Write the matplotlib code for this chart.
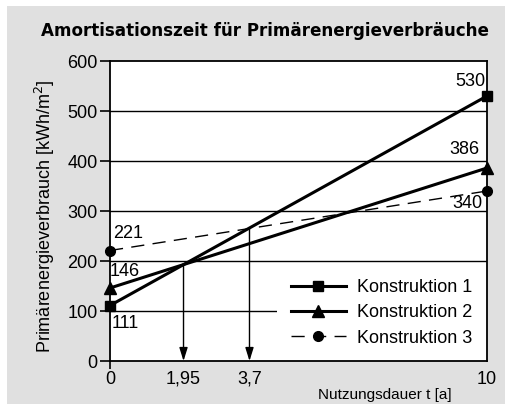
import numpy as np
import matplotlib.pyplot as plt
from matplotlib.patches import Rectangle

# Werte aus dem Diagramm
t = [0, 10]
konstruktion_1 = [111, 530]
konstruktion_2 = [146, 386]
konstruktion_3 = [221, 340]
serien = ['Konstruktion 1', 'Konstruktion 2', 'Konstruktion 3']
amortisation = [1.95, 3.7]
x_ticks = [0, 1.95, 3.7, 10]
x_tick_labels = ['0', '1,95', '3,7', '10']
y_ticks = [0, 100, 200, 300, 400, 500, 600]

plt.rcParams['font.family'] = ['Liberation Sans', 'DejaVu Sans']

W, H = 511, 405
fig = plt.figure(figsize=(W / 100, H / 100), dpi=100)
fig.patch.set_facecolor('white')

# grauer Hintergrund
fig.patches.append(Rectangle((7 / W, 1 - 404 / H), 498 / W, 398 / H,
                             transform=fig.transFigure, facecolor='#e0e0e0',
                             edgecolor='none', zorder=-10))

ax = fig.add_axes([110 / W, 1 - 361 / H, 377 / W, 300 / H])
ax.set_facecolor('white')
ax.set_xlim(0, 10)
ax.set_ylim(0, 600)

for y in y_ticks[1:-1]:
    ax.axhline(y, color='black', lw=1.0, zorder=1)

ax.plot(t, konstruktion_1, color='black', lw=2.2, marker='s', ms=7.5,
        label=serien[0], zorder=4, clip_on=False)
ax.plot(t, konstruktion_2, color='black', lw=2.2, marker='^', ms=8,
        label=serien[1], zorder=4, clip_on=False)
ax.plot(t, konstruktion_3, color='black', lw=1.0, dashes=(9.5, 6), marker='o', ms=7,
        label=serien[2], zorder=4, clip_on=False)

# Pfeile von den Schnittpunkten zur Zeitachse
for ta in amortisation:
    ya = np.interp(ta, t, konstruktion_1)
    ax.annotate('', xy=(ta, 0), xytext=(ta, ya),
                arrowprops=dict(arrowstyle='-|>,head_length=0.8,head_width=0.25',
                                color='black', lw=1.0, shrinkA=0, shrinkB=0),
                zorder=3)

fs = 13
ax.text(9.95, konstruktion_1[1] + 28, '530', ha='right', va='center', fontsize=fs)
ax.text(9.79, konstruktion_2[1] + 36, '386', ha='right', va='center', fontsize=fs)
ax.text(9.87, konstruktion_3[1] - 24, '340', ha='right', va='center', fontsize=fs)
ax.text(0.08, konstruktion_3[0] + 35, '221', ha='left', va='center', fontsize=fs)
ax.text(0.0, konstruktion_2[0] + 32, '146', ha='left', va='center', fontsize=fs)
ax.text(0.05, konstruktion_1[0] - 35, '111', ha='left', va='center', fontsize=fs)

leg = ax.legend(loc='lower right', bbox_to_anchor=(1.0, 0.0), borderaxespad=0.0,
                fontsize=13, frameon=True, fancybox=False, framealpha=1,
                handlelength=3.0, handletextpad=0.65, labelspacing=0.45,
                borderpad=0.8)
leg.get_frame().set_edgecolor('white')
leg.get_frame().set_facecolor('white')
leg.get_frame().set_linewidth(0)
leg.set_zorder(5)

ax.set_xticks(x_ticks)
ax.set_xticklabels(x_tick_labels, fontsize=fs)
ax.set_yticks(y_ticks)
ax.set_yticklabels([str(v) for v in y_ticks], fontsize=fs)
ax.tick_params(axis='x', length=6, width=1.2, pad=1, bottom=True)
ax.tick_params(axis='y', length=7, width=1.2, pad=2)
for i in (1, 2, 3):
    ax.xaxis.get_major_ticks()[i].tick1line.set_visible(False)

for s in ax.spines.values():
    s.set_linewidth(1.3)
    s.set_zorder(6)

fig.text(45 / W, 1 - 216 / H, 'Primärenergieverbrauch [kWh/m$^2$]', rotation=90,
         ha='center', va='center', fontsize=13)
fig.text(385 / W, 1 - 395 / H, 'Nutzungsdauer t [a]', ha='center', va='center', fontsize=11)

fig.text(265 / W, 1 - 31 / H, 'Amortisationszeit für Primärenergieverbräuche',
         ha='center', va='center', fontsize=12.1, fontweight='bold', family='DejaVu Sans')

fig.savefig('out.png', dpi=100)
